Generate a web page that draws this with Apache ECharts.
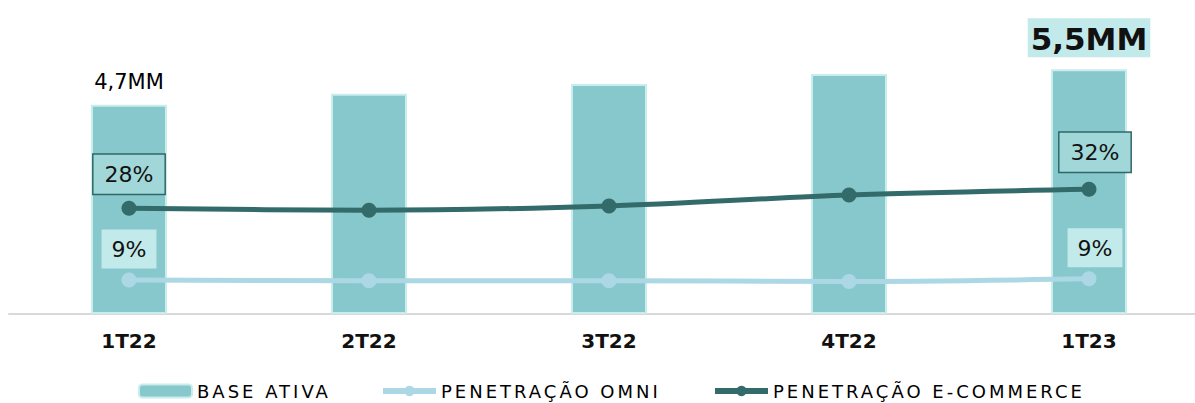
<!DOCTYPE html>
<html>
<head>
<meta charset="utf-8">
<script src="https://cdn.jsdelivr.net/npm/echarts@6/dist/echarts.min.js"></script>
<style>
  html, body { margin: 0; padding: 0; background: #ffffff; overflow: hidden; }
  #chart { width: 1210px; height: 403px; }
  /* legend captions are set with wide tracking */
  #chart text[style*="18px"] { letter-spacing: 3px; }
</style>
</head>
<body>
<div id="chart"></div>
<script>
const categories = ['1T22', '2T22', '3T22', '4T22', '1T23'];
const baseAtiva = [4.7, 4.95, 5.17, 5.39, 5.5];          // milhões de clientes
const penetracaoEcommerce = [28, 27.6, 28.5, 30.8, 32];   // %
const penetracaoOmni = [9.0, 8.8, 8.8, 8.6, 9.3];         // %

const FONT = 'DejaVu Sans';
const last = categories.length - 1;

const fmtMM = v => v.toFixed(1).replace('.', ',') + 'MM';
const fmtPct = p => Math.round(p.value) + '%';

const barData = baseAtiva.map((v, i) => {
  if (i === 0) {
    return { value: v, label: { show: true, position: 'top', distance: 12,
      formatter: p => fmtMM(p.value), fontFamily: FONT, fontSize: 21, fontWeight: 500, color: '#000' } };
  }
  if (i === last) {
    return { value: v, label: { show: true, position: 'top', distance: 12,
      formatter: p => fmtMM(p.value), fontFamily: FONT, fontSize: 31, fontWeight: 'bold', color: '#111',
      backgroundColor: '#c3eaea', padding: [5, 3, 3, 3] } };
  }
  return v;
});

const ecomData = penetracaoEcommerce.map((v, i) => {
  if (i === 0 || i === last) {
    return { value: v, label: { show: true, position: 'top', distance: i === 0 ? 7 : 10,
      offset: [i === last ? 6 : 0, 0], formatter: fmtPct,
      fontFamily: FONT, fontSize: 22, color: '#111',
      backgroundColor: '#a1d7d8', borderColor: '#2f6868', borderWidth: 1.5,
      padding: [9, 11, 8, 11] } };
  }
  return v;
});

const omniData = penetracaoOmni.map((v, i) => {
  if (i === 0 || i === last) {
    return { value: v, label: { show: true, position: 'top', distance: 4,
      offset: [i === last ? 6 : 0, 0], formatter: fmtPct,
      fontFamily: FONT, fontSize: 22, color: '#111',
      backgroundColor: '#c3eaea', padding: [9, 10, 8, 10] } };
  }
  return v;
});

const chart = echarts.init(document.getElementById('chart'), null, { renderer: 'svg' });

const legendText = { fontFamily: FONT, fontSize: 18, color: '#000' };
const legendBase = {
  top: 377, itemWidth: 53, itemHeight: 13, textStyle: legendText, selectedMode: false,
  lineStyle: { width: 6 }
};

chart.setOption({
  animation: false,
  grid: { left: 9, top: 10, right: 1, bottom: 89 },
  legend: [
    Object.assign({ left: 133, data: ['BASE ATIVA'] }, legendBase),
    Object.assign({ left: 375, data: ['PENETRAÇÃO OMNI'] }, legendBase),
    Object.assign({ left: 707, data: ['PENETRAÇÃO E-COMMERCE'] }, legendBase)
  ],
  xAxis: {
    type: 'category',
    data: categories,
    axisLine: { lineStyle: { color: '#d9d9d9', width: 2 } },
    axisTick: { show: false },
    axisLabel: { margin: 17, fontFamily: FONT, fontSize: 20, fontWeight: 'bold', color: '#111' }
  },
  yAxis: [
    { type: 'value', min: 0, max: 6.83, show: false },
    { type: 'value', min: 5.75, max: 69.75, show: false },
    { type: 'value', min: 0, max: 80.4, show: false }
  ],
  series: [
    {
      name: 'BASE ATIVA',
      type: 'bar',
      yAxisIndex: 0,
      barWidth: 76,
      data: barData,
      itemStyle: { color: '#86c8cc', borderColor: '#c9ecec', borderWidth: 2 },
      z: 1
    },
    {
      name: 'PENETRAÇÃO OMNI',
      type: 'line',
      yAxisIndex: 2,
      data: omniData,
      smooth: 0.3,
      symbol: 'circle',
      symbolSize: 15,
      lineStyle: { color: '#acd8e6', width: 5 },
      itemStyle: { color: '#acd8e6' },
      z: 3
    },
    {
      name: 'PENETRAÇÃO E-COMMERCE',
      type: 'line',
      yAxisIndex: 1,
      data: ecomData,
      smooth: 0.3,
      symbol: 'circle',
      symbolSize: 15,
      lineStyle: { color: '#336b6b', width: 5 },
      itemStyle: { color: '#336b6b' },
      z: 4
    }
  ]
});
</script>
</body>
</html>
